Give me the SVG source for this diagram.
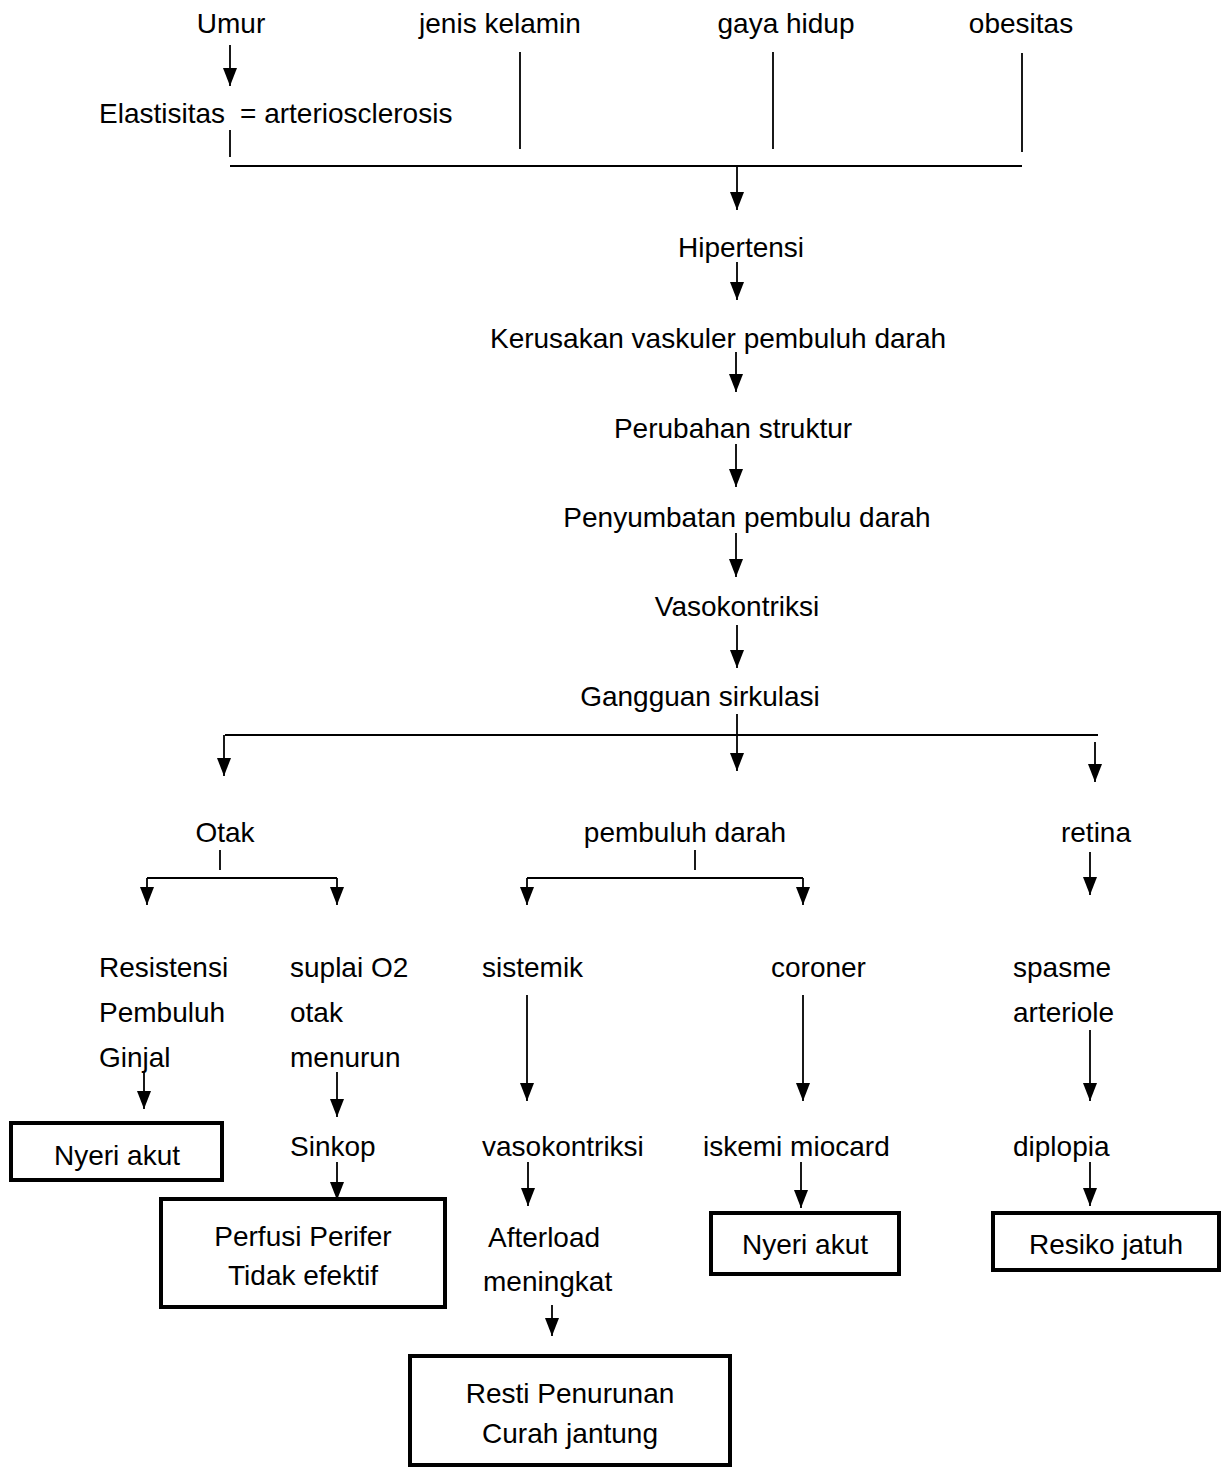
<svg xmlns="http://www.w3.org/2000/svg" width="1221" height="1467" viewBox="0 0 1221 1467">
<style>
text{font-family:"Liberation Sans",Arial,sans-serif;font-size:28px;fill:#000}
.c{text-anchor:middle}
.ln{stroke:#000;stroke-width:1.8;fill:none}
.ar{stroke:#000;stroke-width:1.8;fill:none;marker-end:url(#ah)}
.bx{fill:#fff;stroke:#000;stroke-width:4}
</style>
<defs>
<marker id="ah" markerUnits="userSpaceOnUse" markerWidth="18" markerHeight="16" refX="18" refY="7" orient="auto" viewBox="0 0 18 14">
<path d="M0,0 L18,7 L0,14 z" fill="#000"/>
</marker>
</defs>
<rect width="1221" height="1467" fill="#fff"/>
<g id="connectors">
<line class="ar" x1="230" y1="45" x2="230" y2="86"/>
<line class="ln" x1="230" y1="130" x2="230" y2="157"/>
<line class="ln" x1="520" y1="52" x2="520" y2="149"/>
<line class="ln" x1="773" y1="52" x2="773" y2="149"/>
<line class="ln" x1="1022" y1="53" x2="1022" y2="152"/>
<line class="ln" x1="230" y1="166" x2="1022" y2="166"/>
<line class="ar" x1="737" y1="166" x2="737" y2="210"/>
<line class="ar" x1="737" y1="262" x2="737" y2="300"/>
<line class="ar" x1="736" y1="352" x2="736" y2="392"/>
<line class="ar" x1="736" y1="444" x2="736" y2="487"/>
<line class="ar" x1="736" y1="533" x2="736" y2="577"/>
<line class="ar" x1="737" y1="625" x2="737" y2="668"/>
<line class="ln" x1="225" y1="735" x2="1098" y2="735"/>
<line class="ar" x1="224" y1="735" x2="224" y2="776"/>
<line class="ar" x1="737" y1="714" x2="737" y2="771"/>
<line class="ar" x1="1095" y1="742" x2="1095" y2="782"/>
<line class="ln" x1="220" y1="850" x2="220" y2="870"/>
<line class="ln" x1="147" y1="878" x2="337" y2="878"/>
<line class="ar" x1="147" y1="878" x2="147" y2="905"/>
<line class="ar" x1="337" y1="878" x2="337" y2="905"/>
<line class="ln" x1="695" y1="850" x2="695" y2="870"/>
<line class="ln" x1="527" y1="878" x2="803" y2="878"/>
<line class="ar" x1="527" y1="878" x2="527" y2="905"/>
<line class="ar" x1="803" y1="878" x2="803" y2="905"/>
<line class="ar" x1="1090" y1="852" x2="1090" y2="895"/>
<line class="ar" x1="144" y1="1072" x2="144" y2="1109"/>
<line class="ar" x1="337" y1="1072" x2="337" y2="1117"/>
<line class="ar" x1="527" y1="995" x2="527" y2="1101"/>
<line class="ar" x1="803" y1="995" x2="803" y2="1101"/>
<line class="ar" x1="1090" y1="1030" x2="1090" y2="1101"/>
<line class="ar" x1="337" y1="1162" x2="337" y2="1200"/>
<line class="ar" x1="528" y1="1162" x2="528" y2="1206"/>
<line class="ar" x1="801" y1="1162" x2="801" y2="1208"/>
<line class="ar" x1="1090" y1="1162" x2="1090" y2="1206"/>
<line class="ar" x1="552" y1="1305" x2="552" y2="1336"/>
</g>
<g id="n-umur"><text class="c" x="231" y="33">Umur</text></g>
<g id="n-jenis"><text class="c" x="500" y="33">jenis kelamin</text></g>
<g id="n-gaya"><text class="c" x="786" y="33">gaya hidup</text></g>
<g id="n-obesitas"><text class="c" x="1021" y="33">obesitas</text></g>
<g id="n-elastisitas"><text x="99" y="123">Elastisitas</text><text x="240" y="123">= arteriosclerosis</text></g>
<g id="n-hipertensi"><text class="c" x="741" y="257">Hipertensi</text></g>
<g id="n-kerusakan"><text class="c" x="718" y="348">Kerusakan vaskuler pembuluh darah</text></g>
<g id="n-perubahan"><text class="c" x="733" y="438">Perubahan struktur</text></g>
<g id="n-penyumbatan"><text class="c" x="747" y="527">Penyumbatan pembulu darah</text></g>
<g id="n-vasokontriksi1"><text class="c" x="737" y="616">Vasokontriksi</text></g>
<g id="n-gangguan"><text class="c" x="700" y="706">Gangguan sirkulasi</text></g>
<g id="n-otak"><text class="c" x="225" y="842">Otak</text></g>
<g id="n-pembuluh"><text class="c" x="685" y="842">pembuluh darah</text></g>
<g id="n-retina"><text class="c" x="1096" y="842">retina</text></g>
<g id="n-resistensi"><text x="99" y="977">Resistensi</text><text x="99" y="1022">Pembuluh</text><text x="99" y="1067">Ginjal</text></g>
<g id="n-suplai"><text x="290" y="977">suplai O2</text><text x="290" y="1022">otak</text><text x="290" y="1067">menurun</text></g>
<g id="n-sistemik"><text x="482" y="977">sistemik</text></g>
<g id="n-coroner"><text x="771" y="977">coroner</text></g>
<g id="n-spasme"><text x="1013" y="977">spasme</text><text x="1013" y="1022">arteriole</text></g>
<g id="n-nyeri1"><rect class="bx" x="11" y="1123" width="211" height="57"/><text class="c" x="117" y="1165">Nyeri akut</text></g>
<g id="n-sinkop"><text x="290" y="1156">Sinkop</text></g>
<g id="n-vasokontriksi2"><text x="482" y="1156">vasokontriksi</text></g>
<g id="n-iskemi"><text x="703" y="1156">iskemi miocard</text></g>
<g id="n-diplopia"><text x="1013" y="1156">diplopia</text></g>
<g id="n-perfusi"><rect class="bx" x="161" y="1199" width="284" height="108"/><text class="c" x="303" y="1246">Perfusi Perifer</text><text class="c" x="303" y="1285">Tidak efektif</text></g>
<g id="n-afterload"><text x="488" y="1247">Afterload</text><text x="483" y="1291">meningkat</text></g>
<g id="n-nyeri2"><rect class="bx" x="711" y="1213" width="188" height="61"/><text class="c" x="805" y="1254">Nyeri akut</text></g>
<g id="n-resiko"><rect class="bx" x="993" y="1213" width="226" height="57"/><text class="c" x="1106" y="1254">Resiko jatuh</text></g>
<g id="n-resti"><rect class="bx" x="410" y="1356" width="320" height="109"/><text class="c" x="570" y="1403">Resti Penurunan</text><text class="c" x="570" y="1443">Curah jantung</text></g>
</svg>
